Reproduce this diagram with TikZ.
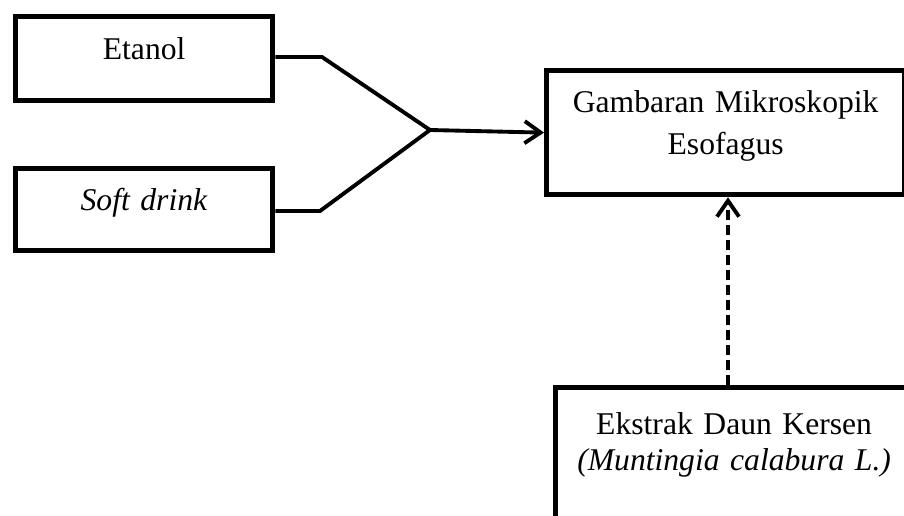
\documentclass[tikz,border=0pt]{standalone}
\usepackage{fontspec}
\setmainfont{Liberation Serif}
\usetikzlibrary{arrows.meta}

\begin{document}
\begin{tikzpicture}[
    % Define the style for the boxes
    box/.style={draw, line width=3pt, inner sep=0pt, align=center,
        font=\fontsize{18}{24}\selectfont},
    % Define the style for the connectors
    link/.style={line width=2.2pt},
    tip/.style={-{Straight Barb[length=0.32cm, width=0.44cm]}},
    dashlink/.style={link, dash pattern=on 0.2cm off 0.1cm}
]

% Fix the size of the picture
\clip (0,0) rectangle (18.08,10.30);

% Draw the boxes
\node (etanol) [box, anchor=north west, text width=5.14cm,
    text height=0.86cm, text depth=0.82cm] at (0.26,10.02) {Etanol};
\node (soft) [box, anchor=north west, text width=5.14cm,
    text height=0.84cm, text depth=0.80cm] at (0.26,6.98) {\textit{Soft drink}};
\node (gamb) [box, anchor=north west, text width=7.16cm,
    text height=0.84cm, text depth=1.64cm] at (10.88,8.94)
    {Gambaran Mikroskopik\\Esofagus};
\node (ekstrak) [box, anchor=north west, text width=7.14cm,
    text height=0.94cm, text depth=1.96cm, font=\fontsize{18}{20.5}\selectfont]
    at (11.06,2.60) {Ekstrak Daun Kersen\\\textit{(Muntingia calabura L.)}};

% Define the points of the connectors
\coordinate (e1) at (6.44,9.16);
\coordinate (e2) at (6.40,6.08);
\coordinate (join) at (8.60,7.70);
\coordinate (dash) at (14.56,2.60);

% Draw the connectors
\draw[link] (etanol.east |- e1) -- (e1) -- (join);
\draw[link] (soft.east |- e2) -- (e2) -- (join);
\draw[link, tip] (join) -- (gamb.west);
\draw[dashlink, tip] (dash) -- (dash |- gamb.south);

\end{tikzpicture}
\end{document}
